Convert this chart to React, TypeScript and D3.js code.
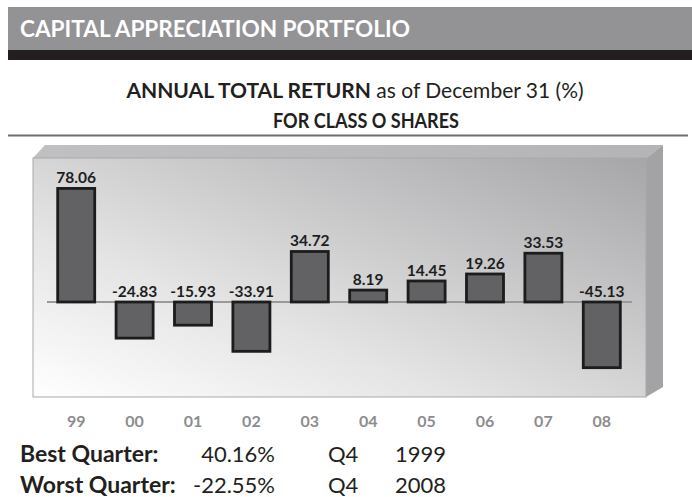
import React from "react";
import * as d3 from "d3";

const years = ["99", "00", "01", "02", "03", "04", "05", "06", "07", "08"];
const returns = [78.06, -24.83, -15.93, -33.91, 34.72, 8.19, 14.45, 19.26, 33.53, -45.13];
const yDomain = [-50, 80];
const title = "CAPITAL APPRECIATION PORTFOLIO";
const subtitleBold = "ANNUAL TOTAL RETURN";
const subtitleRest = " as of December 31 (%)";
const subtitle2 = "FOR CLASS O SHARES";
const quarterLabels = ["Best Quarter:", "Worst Quarter:"];
const quarterValues = ["40.16%", "-22.55%"];
const quarterQ = ["Q4", "Q4"];
const quarterYears = ["1999", "2008"];

const FONT = "Lato, 'Open Sans', sans-serif";

export default function App() {
  const W = 692;
  const H = 497;
  const x = d3.scaleBand<string>().domain(years).range([47, 631]).paddingInner(0.366).paddingOuter(0.183);
  const y = d3.scaleLinear().domain(yDomain).range([374.75, 185.6]);
  const y0 = y(0);

  // box geometry
  const fx0 = 33, fx1 = 646, fy0 = 158, fy1 = 397;
  const bx0 = 45, bx1 = 663, by0 = 145, by1 = 387;

  return (
    <svg width={W} height={H} style={{ position: "fixed", left: 0, top: 0, background: "#fff" }} fontFamily={FONT}>
      <defs>
        <linearGradient id="front" x1="0" y1="1" x2="1" y2="0">
          <stop offset="0%" stopColor="#ffffff" />
          <stop offset="35%" stopColor="#e4e4e5" />
          <stop offset="100%" stopColor="#a6a6a8" />
        </linearGradient>
        <linearGradient id="top" x1="0" y1="0" x2="1" y2="0">
          <stop offset="0%" stopColor="#c0c0c2" />
          <stop offset="100%" stopColor="#b4b4b6" />
        </linearGradient>
      </defs>
      {/* header */}
      <rect x={8} y={7} width={684} height={43} fill="#939396" />
      <rect x={8} y={50} width={684} height={10} fill="#231f20" />
      <text x={20} y={37} fill="#fff" fontSize={22.5} fontWeight={700} textLength={390} lengthAdjust="spacingAndGlyphs">{title}</text>

      {/* subtitles */}
      <text x={355} y={98} textAnchor="middle" fontSize={21} fill="#231f20">
        <tspan fontWeight={700}>{subtitleBold}</tspan>
        <tspan fontWeight={400}>{subtitleRest}</tspan>
      </text>
      <text x={366} y={128} textAnchor="middle" fontSize={21} fontWeight={700} fill="#231f20" textLength={186} lengthAdjust="spacingAndGlyphs">{subtitle2}</text>
      <line x1={8} x2={688} y1={135.5} y2={135.5} stroke="#6d6d6f" strokeWidth={2} />

      {/* 3D box */}
      <polygon points={`${fx0},${fy0} ${bx0},${by0} ${bx1},${by0} ${fx1},${fy0}`} fill="url(#top)" />
      <polygon points={`${fx1},${fy0} ${bx1},${by0} ${bx1},${by1} ${fx1},${fy1}`} fill="#a3a3a5" />
      <rect x={fx0} y={fy0} width={fx1 - fx0} height={fy1 - fy0} fill="url(#front)" stroke="#a9a9ab" strokeWidth={1} />

      {/* zero line */}
      <line x1={47} x2={632} y1={y0} y2={y0} stroke="#9a9a9c" strokeWidth={2} />

      {/* bars */}
      {years.map((yr, i) => {
        const v = returns[i];
        const top = Math.min(y(v), y0);
        const h = Math.abs(y(v) - y0);
        const cx = (x(yr) as number) + x.bandwidth() / 2;
        const labelY = v >= 0 ? y(v) - 5 : y0 - 5;
        return (
          <g key={yr}>
            <rect x={x(yr)} y={top} width={x.bandwidth()} height={h} fill="#626264" stroke="#1c1c1c" strokeWidth={2.8} />
            <text x={cx} y={labelY} textAnchor="middle" fontSize={15.5} fontWeight={700} fill="#1e1e1e">{v.toFixed(2)}</text>
            <text x={cx} y={427} textAnchor="middle" fontSize={16} fontWeight={700} fill="#8c8c8e">{yr}</text>
          </g>
        );
      })}

      {/* best/worst */}
      {quarterLabels.map((lab, i) => {
        const by = 462 + i * 31;
        return (
          <g key={lab} fontSize={22} fill="#231f20">
            <text x={20} y={by} fontWeight={700} fontSize={23}>{lab}</text>
            <text x={275} y={by} textAnchor="end">{quarterValues[i]}</text>
            <text x={328} y={by}>{quarterQ[i]}</text>
            <text x={395} y={by}>{quarterYears[i]}</text>
          </g>
        );
      })}
    </svg>
  );
}
